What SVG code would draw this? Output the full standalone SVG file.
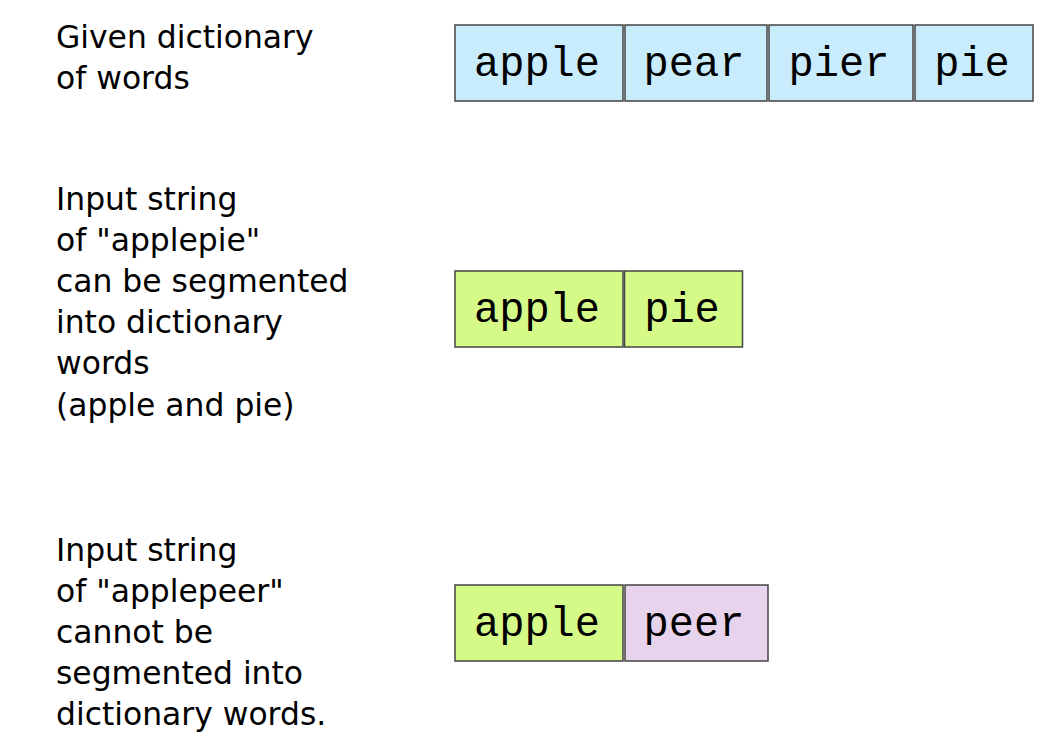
<svg xmlns="http://www.w3.org/2000/svg" width="1064" height="752" viewBox="0 0 1064 752">
<style>
.lbl{font-family:"DejaVu Sans",Verdana,sans-serif;font-size:31.4px;fill:#000}
.box rect{stroke:#444;stroke-width:1.5}
.box text{font-family:"Courier New","Nimbus Mono PS","FreeMono","Liberation Mono",monospace;font-size:42px;fill:#000;text-anchor:middle}
.blue{fill:#c8ecfc}
.green{fill:#d6fa88}
.purple{fill:#e8d3ec}
</style>
<rect width="1064" height="752" fill="#fff"/>
<g id="label-dictionary">
<text class="lbl" x="56" y="48">Given dictionary</text>
<text class="lbl" x="56" y="89">of words</text>
</g>
<g id="label-applepie">
<text class="lbl" x="56" y="210">Input string</text>
<text class="lbl" x="56" y="251">of "applepie"</text>
<text class="lbl" x="56" y="292">can be segmented</text>
<text class="lbl" x="56" y="333">into dictionary</text>
<text class="lbl" x="56" y="374">words</text>
<text class="lbl" x="56" y="416">(apple and pie)</text>
</g>
<g id="label-applepeer">
<text class="lbl" x="56" y="561">Input string</text>
<text class="lbl" x="56" y="602">of "applepeer"</text>
<text class="lbl" x="56" y="643">cannot be</text>
<text class="lbl" x="56" y="684">segmented into</text>
<text class="lbl" x="56" y="725">dictionary words.</text>
</g>
<g id="dict-apple" class="box"><rect class="blue" x="455" y="25" width="168" height="76"/><text x="537" y="76">apple</text></g>
<g id="dict-pear" class="box"><rect class="blue" x="625" y="25" width="142" height="76"/><text x="694" y="76">pear</text></g>
<g id="dict-pier" class="box"><rect class="blue" x="769" y="25" width="144" height="76"/><text x="839" y="76">pier</text></g>
<g id="dict-pie" class="box"><rect class="blue" x="915" y="25" width="118" height="76"/><text x="972" y="76">pie</text></g>
<g id="seg1-apple" class="box"><rect class="green" x="455" y="271" width="168" height="76"/><text x="537" y="322">apple</text></g>
<g id="seg1-pie" class="box"><rect class="green" x="624.5" y="271" width="118" height="76"/><text x="682" y="322">pie</text></g>
<g id="seg2-apple" class="box"><rect class="green" x="455" y="585" width="168" height="76"/><text x="537" y="636">apple</text></g>
<g id="seg2-peer" class="box"><rect class="purple" x="625" y="585" width="143" height="76"/><text x="694" y="636">peer</text></g>
<g id="connectors"></g>
</svg>
